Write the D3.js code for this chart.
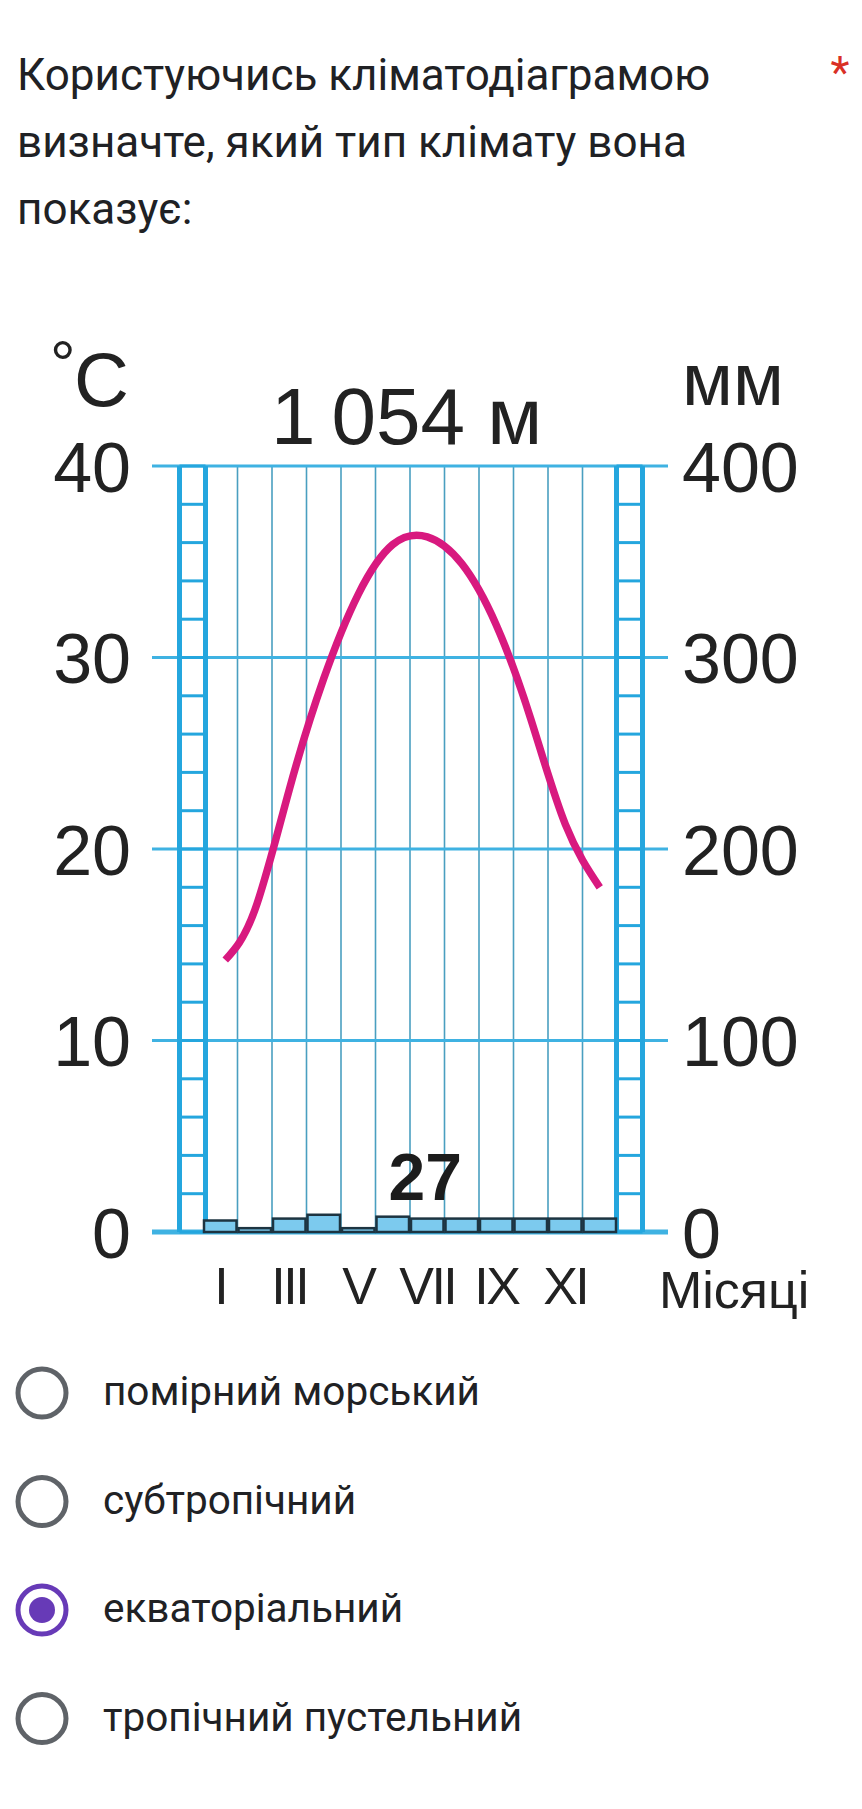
<!DOCTYPE html>
<html>
<head>
<meta charset="utf-8">
<script src="https://cdn.jsdelivr.net/npm/d3@7"></script>
<style>
  body { margin: 0; background: #fff; }
  svg { display: block; }
</style>
</head>
<body>
<svg id="page" width="862" height="1809"></svg>
<script>
// --- Data ---
const months = ["I", "II", "III", "IV", "V", "VI", "VII", "VIII", "IX", "X", "XI", "XII"];
const monthTicks = ["I", "III", "V", "VII", "IX", "XI"];
const temperature = [14.2, 16.8, 23.1, 28.9, 33.3, 35.9, 36.3, 34.9, 31.7, 26.8, 21.3, 18.0]; // °C
const precipitation = [6, 2, 7, 9, 2, 8, 7, 7, 7, 7, 7, 7]; // mm
const tempTicks = [0, 10, 20, 30, 40];
const precipTicks = [0, 100, 200, 300, 400];
const annualPrecip = "27";
const altitude = "1\u2009054 м";
const questionLines = ["Користуючись кліматодіаграмою", "визначте, який тип клімату вона", "показує:"];
const answerOptions = ["помірний морський", "субтропічний", "екваторіальний", "тропічний пустельний"];
const selectedAnswer = 2;

// --- Setup ---
const svg = d3.select("#page");
svg.append("rect").attr("width", 862).attr("height", 1809).attr("fill", "#fff");

const chartFont = "'Liberation Sans', Arial, Helvetica, sans-serif";
const uiFont = "Roboto, 'Noto Sans', sans-serif";

// plot area
const plotLeft = 203, plotRight = 617;
const gridLeft = 152, gridRight = 668;
const ladderW = 26;

const x = d3.scaleBand().domain(months).range([plotLeft, plotRight]);
const yT = d3.scaleLinear().domain([0, 40]).range([1232, 466]);
const yP = d3.scaleLinear().domain([0, 400]).range([1232, 466]);

// --- Question text ---
const q = svg.append("g");
q.selectAll("text.q")
    .data(questionLines)
    .join("text")
    .attr("class", "q")
    .attr("x", 17)
    .attr("y", (d, i) => 90 + i * 67)
    .attr("font-family", uiFont)
    .attr("font-size", 44)
    .attr("fill", "#202124")
    .text(d => d);

q.append("text")
    .attr("x", 840).attr("y", 88)
    .attr("text-anchor", "middle")
    .attr("font-family", uiFont)
    .attr("font-size", 44)
    .attr("fill", "#d93025")
    .text("*");

// --- Climate chart ---
const chart = svg.append("g");

// thin month separators
chart.append("g")
    .selectAll("line")
    .data(months.slice(1))
    .join("line")
    .attr("x1", d => x(d)).attr("x2", d => x(d))
    .attr("y1", yT(40)).attr("y2", yT(0))
    .attr("stroke", "#4a9fc0")
    .attr("stroke-width", 1.6);

// horizontal grid lines
chart.append("g")
    .selectAll("line")
    .data(tempTicks)
    .join("line")
    .attr("x1", gridLeft).attr("x2", gridRight)
    .attr("y1", d => yT(d)).attr("y2", d => yT(d))
    .attr("stroke", "#3fb2e2")
    .attr("stroke-width", d => d === 0 ? 5 : 3.2);

// ladders on both sides (rungs every 2 °C)
const rungs = d3.range(0, 41, 2);
[[plotLeft + 2.5 - ladderW, plotLeft + 2.5], [plotRight - 0.5, plotRight - 0.5 + ladderW]].forEach(([a, b]) => {
    const lad = chart.append("g");
    lad.selectAll("line.rung")
        .data(rungs)
        .join("line")
        .attr("class", "rung")
        .attr("x1", a).attr("x2", b)
        .attr("y1", d => yT(d)).attr("y2", d => yT(d))
        .attr("stroke", "#24a6de")
        .attr("stroke-width", 3);
    lad.selectAll("line.wall")
        .data([a, b])
        .join("line")
        .attr("class", "wall")
        .attr("x1", d => d).attr("x2", d => d)
        .attr("y1", yT(40)).attr("y2", yT(0))
        .attr("stroke", "#24a6de")
        .attr("stroke-width", 5);
});

// precipitation bars
chart.append("g")
    .selectAll("rect")
    .data(precipitation)
    .join("rect")
    .attr("x", (d, i) => x(months[i]) + 1)
    .attr("width", x.bandwidth() - 2)
    .attr("y", d => yP(d))
    .attr("height", d => yP(0) - yP(d))
    .attr("fill", "#7ccaee")
    .attr("stroke", "#1d3441")
    .attr("stroke-width", 2.5);

// temperature curve
const tempLine = d3.line()
    .x((d, i) => x(months[i]) + x.bandwidth() / 2 + (i === 0 ? 5 : 0))
    .y(d => yT(d))
    .curve(d3.curveNatural);

chart.append("path")
    .datum(temperature)
    .attr("d", tempLine)
    .attr("fill", "none")
    .attr("stroke", "#d8197f")
    .attr("stroke-width", 7.5);

// left axis (°C)
const leftAxis = chart.append("g")
    .attr("transform", "translate(131,0)")
    .call(d3.axisLeft(yT).tickValues(tempTicks).tickSize(0).tickPadding(0));
// right axis (mm)
const rightAxis = chart.append("g")
    .attr("transform", "translate(682,0)")
    .call(d3.axisRight(yP).tickValues(precipTicks).tickSize(0).tickPadding(0));
[leftAxis, rightAxis].forEach(ax => {
    ax.select(".domain").remove();
    ax.selectAll("text")
        .attr("font-family", chartFont)
        .attr("font-size", 70)
        .attr("fill", "#222")
        .attr("dy", "0.36em");
});

// month axis
const monthAxis = chart.append("g")
    .attr("transform", `translate(0,${yT(0)})`)
    .call(d3.axisBottom(x).tickValues(monthTicks).tickSize(0).tickPadding(35));
monthAxis.select(".domain").remove();
monthAxis.selectAll("text")
    .attr("font-family", chartFont)
    .attr("font-size", 52)
    .attr("letter-spacing", -2.5)
    .attr("fill", "#222");

chart.append("text")
    .attr("x", 659).attr("y", 1308)
    .attr("font-family", chartFont)
    .attr("font-size", 52)
    .attr("fill", "#222")
    .text("Місяці");

// unit labels
chart.append("text")
    .attr("x", 50).attr("y", 386)
    .attr("font-family", chartFont)
    .attr("font-size", 64)
    .attr("fill", "#222")
    .text("°");
chart.append("text")
    .attr("x", 129).attr("y", 406)
    .attr("text-anchor", "end")
    .attr("font-family", chartFont)
    .attr("font-size", 76)
    .attr("fill", "#222")
    .text("C");
chart.append("text")
    .attr("x", 682).attr("y", 405)
    .attr("font-family", chartFont)
    .attr("font-size", 74)
    .attr("fill", "#222")
    .text("мм");

// altitude & annual precipitation
chart.append("text")
    .attr("x", 271).attr("y", 444)
    .attr("font-family", chartFont)
    .attr("font-size", 80)
    .attr("fill", "#222")
    .text(altitude);
chart.append("text")
    .attr("x", x("VII") + x.bandwidth() / 2 - 2).attr("y", 1200)
    .attr("text-anchor", "middle")
    .attr("font-family", chartFont)
    .attr("font-weight", "bold")
    .attr("font-size", 66)
    .attr("fill", "#1c1c1c")
    .text(annualPrecip);

// --- Answer options ---
const opts = svg.append("g")
    .selectAll("g")
    .data(answerOptions)
    .join("g")
    .attr("transform", (d, i) => `translate(0,${1393 + i * 108.5})`);

opts.append("circle")
    .attr("cx", 42).attr("cy", 0).attr("r", 24)
    .attr("fill", "none")
    .attr("stroke", (d, i) => i === selectedAnswer ? "#673ab7" : "#5f6368")
    .attr("stroke-width", 5);

opts.filter((d, i) => i === selectedAnswer)
    .append("circle")
    .attr("cx", 42).attr("cy", 0).attr("r", 13)
    .attr("fill", "#673ab7");

opts.append("text")
    .attr("x", 103).attr("y", 12)
    .attr("font-family", uiFont)
    .attr("font-size", 40.5)
    .attr("fill", "#202124")
    .text(d => d);
</script>
</body>
</html>
